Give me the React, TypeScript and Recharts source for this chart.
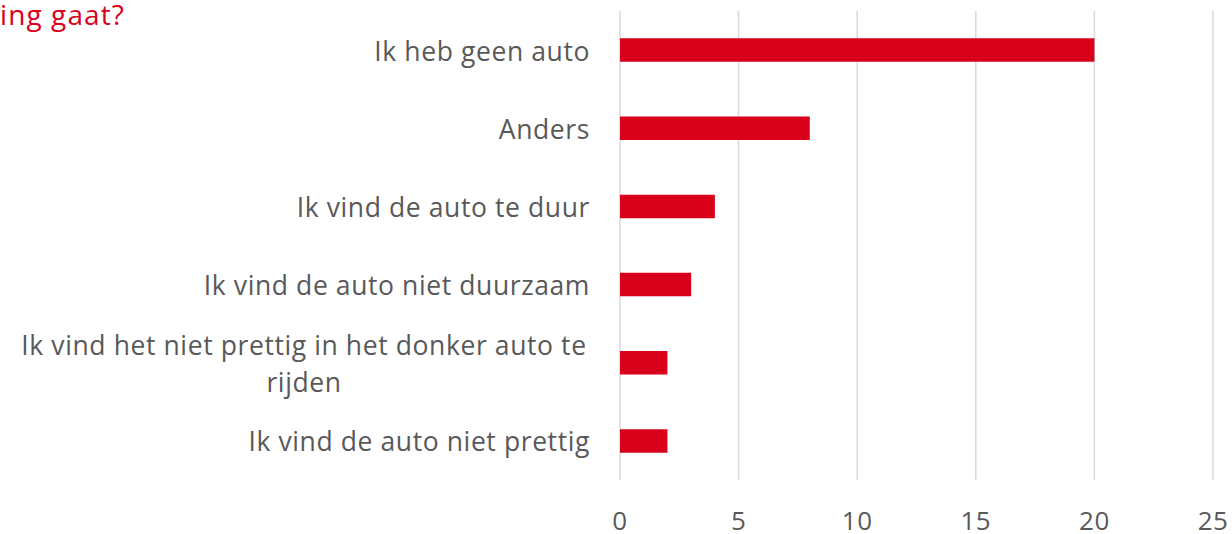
import React from "react";
import { BarChart, Bar, XAxis, YAxis, CartesianGrid } from "recharts";

const categories = [
  "Ik heb geen auto",
  "Anders",
  "Ik vind de auto te duur",
  "Ik vind de auto niet duurzaam",
  "Ik vind het niet prettig in het donker auto te rijden",
  "Ik vind de auto niet prettig",
];
const values = [20, 8, 4, 3, 2, 2];
const xTicks = [0, 5, 10, 15, 20, 25];
const titleText = "ing gaat?";

const data = categories.map((name, i) => ({ name, value: values[i] }));

const FONT = "'Open Sans', 'Noto Sans', sans-serif";
const GRAY = "#595959";
const RED = "#D9001B";
const LABEL_SIZE = 26.5;
const LABEL_SPACING = 0.6;

function wrap(label: string, maxChars: number): string[] {
  const words = label.split(" ");
  const lines: string[] = [];
  let cur = "";
  for (const w of words) {
    const next = cur ? cur + " " + w : w;
    if (next.length > maxChars && cur) {
      lines.push(cur);
      cur = w;
    } else {
      cur = next;
    }
  }
  if (cur) lines.push(cur);
  return lines;
}

const YTick = (props: any) => {
  const { x, y, payload } = props;
  const lines = wrap(payload.value, 46);
  const right = x - 22;
  if (lines.length === 1) {
    return (
      <text
        x={right}
        y={y + 10.5}
        textAnchor="end"
        fill={GRAY}
        fontSize={LABEL_SIZE}
        letterSpacing={LABEL_SPACING}
        fontFamily={FONT}
      >
        {payload.value}
      </text>
    );
  }
  const boxWidth = 572;
  const cx = right - boxWidth / 2;
  const lh = 37;
  const start = y - ((lines.length - 1) * lh) / 2;
  return (
    <text
      textAnchor="middle"
      fill={GRAY}
      fontSize={LABEL_SIZE}
      letterSpacing={LABEL_SPACING}
      fontFamily={FONT}
    >
      {lines.map((l, i) => (
        <tspan key={i} x={cx} y={start + i * lh + 10.5}>
          {l}
        </tspan>
      ))}
    </text>
  );
};

const XTick = (props: any) => {
  const { x, payload } = props;
  return (
    <text x={x} y={530} textAnchor="middle" fill={GRAY} fontSize={26} letterSpacing={0.5} fontFamily={FONT}>
      {payload.value}
    </text>
  );
};

export default function App() {
  return (
    <div style={{ position: "absolute", left: 0, top: 0, width: 1232, height: 534, background: "#fff" }}>
      <svg
        width={200}
        height={40}
        style={{ position: "absolute", left: 0, top: 0, overflow: "visible" }}
      >
        <text x={0} y={25} fill={RED} fontSize={28} letterSpacing={1.1} fontFamily={FONT}>
          {titleText}
        </text>
      </svg>
      <BarChart
        width={1232}
        height={534}
        data={data}
        layout="vertical"
        margin={{ top: 11, right: 19, bottom: 0, left: 0 }}
        barCategoryGap="65%"
      >
        <CartesianGrid horizontal={false} stroke="#d9d9d9" strokeWidth={1.5} />
        <XAxis
          type="number"
          domain={[0, 25]}
          ticks={xTicks}
          axisLine={false}
          tickLine={false}
          height={54}
          tick={<XTick />}
          interval={0}
        />
        <YAxis
          type="category"
          dataKey="name"
          width={620}
          axisLine={false}
          tickLine={false}
          tick={<YTick />}
          interval={0}
        />
        <Bar dataKey="value" fill={RED} isAnimationActive={false} />
      </BarChart>
    </div>
  );
}
